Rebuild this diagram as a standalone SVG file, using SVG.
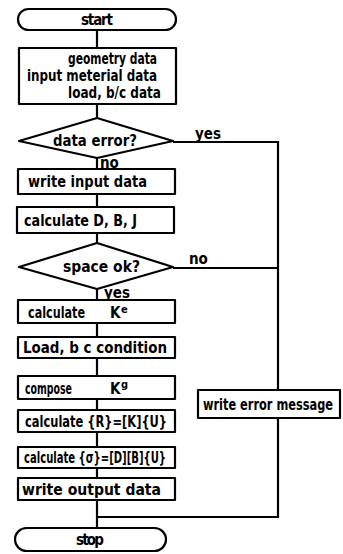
<svg xmlns="http://www.w3.org/2000/svg" width="343" height="554" viewBox="0 0 343 554">
<style>
.s{fill:#fff;stroke:#000;stroke-width:2.2;stroke-linejoin:round}
.c{fill:none;stroke:#000;stroke-width:2.2}
text{font-family:"DejaVu Sans Condensed","Liberation Sans",sans-serif;font-size:15px;font-weight:600;fill:#000}
.sup{font-size:11px}
</style>
<g id="connectors">
<line class="c" x1="97" y1="30" x2="97" y2="48"/>
<line class="c" x1="97" y1="104" x2="97" y2="118"/>
<line class="c" x1="97" y1="158" x2="97" y2="169"/>
<line class="c" x1="97" y1="194" x2="97" y2="207"/>
<line class="c" x1="97" y1="233" x2="97" y2="243"/>
<line class="c" x1="97" y1="289" x2="97" y2="300"/>
<line class="c" x1="97" y1="323" x2="97" y2="337"/>
<line class="c" x1="97" y1="358" x2="97" y2="376"/>
<line class="c" x1="97" y1="399" x2="97" y2="410"/>
<line class="c" x1="97" y1="432" x2="97" y2="447"/>
<line class="c" x1="97" y1="468" x2="97" y2="478"/>
<line class="c" x1="97" y1="500" x2="97" y2="528"/>
<polyline class="c" points="173,142 278,142 278,390"/>
<line class="c" x1="173" y1="268" x2="278" y2="268"/>
<polyline class="c" points="278,418 278,517 97,517"/>
<text x="100" y="168">no</text>
<text x="104" y="298" font-size="14">yes</text>
<text x="195" y="139">yes</text>
<text x="189" y="264">no</text>
</g>
<g id="start">
<rect class="s" x="18" y="9" width="158" height="21" rx="10.5"/>
<text x="97" y="25" text-anchor="middle" textLength="32" lengthAdjust="spacing">start</text>
</g>
<g id="input">
<rect class="s" x="19" y="48" width="157" height="56"/>
<text x="68" y="64" textLength="89" lengthAdjust="spacingAndGlyphs">geometry data</text>
<text x="27" y="81" textLength="130" lengthAdjust="spacingAndGlyphs">input meterial data</text>
<text x="68" y="98" textLength="93" lengthAdjust="spacingAndGlyphs">load, b/c data</text>
</g>
<g id="data-error">
<polygon class="s" points="19,141 97,118 173,141 97,158"/>
<text x="53" y="146" textLength="84" lengthAdjust="spacingAndGlyphs">data error?</text>
</g>
<g id="write-input">
<rect class="s" x="18" y="169" width="157" height="25"/>
<text x="28" y="187" textLength="119" lengthAdjust="spacingAndGlyphs">write input data</text>
</g>
<g id="calc-dbj">
<rect class="s" x="17" y="207" width="157" height="26"/>
<text x="24" y="226" textLength="113" lengthAdjust="spacingAndGlyphs">calculate D, B, J</text>
</g>
<g id="space-ok">
<polygon class="s" points="19,267 97,243 173,267 97,289"/>
<text x="63" y="272" textLength="77" lengthAdjust="spacingAndGlyphs">space ok?</text>
</g>
<g id="calc-ke">
<rect class="s" x="18" y="300" width="157" height="23"/>
<text x="28" y="318" textLength="57" lengthAdjust="spacingAndGlyphs">calculate</text>
<text x="110" y="318">K</text>
<text class="sup" x="121" y="313">e</text>
</g>
<g id="load-bc">
<rect class="s" x="18" y="337" width="157" height="21"/>
<text x="23" y="353" textLength="144" lengthAdjust="spacingAndGlyphs">Load, b c condition</text>
</g>
<g id="compose-kg">
<rect class="s" x="18" y="376" width="157" height="23"/>
<text x="25" y="394" textLength="47" lengthAdjust="spacingAndGlyphs">compose</text>
<text x="110" y="394">K</text>
<text class="sup" x="121" y="388">g</text>
</g>
<g id="calc-r">
<rect class="s" x="18" y="410" width="157" height="22"/>
<text x="25" y="427" textLength="142" lengthAdjust="spacingAndGlyphs">calculate {R}=[K]{U}</text>
</g>
<g id="calc-sigma">
<rect class="s" x="18" y="447" width="157" height="21"/>
<text x="24" y="463" textLength="142" lengthAdjust="spacingAndGlyphs">calculate {σ}=[D][B]{U}</text>
</g>
<g id="write-output">
<rect class="s" x="18" y="478" width="157" height="22"/>
<text x="22" y="495" textLength="139" lengthAdjust="spacingAndGlyphs">write output data</text>
</g>
<g id="stop">
<rect class="s" x="15" y="528" width="151" height="23" rx="11.5"/>
<text x="90" y="545" text-anchor="middle" textLength="28" lengthAdjust="spacing">stop</text>
</g>
<g id="error-message">
<rect class="s" x="198" y="390" width="142" height="28"/>
<text x="203" y="410" textLength="130" lengthAdjust="spacingAndGlyphs">write error message</text>
</g>
</svg>
